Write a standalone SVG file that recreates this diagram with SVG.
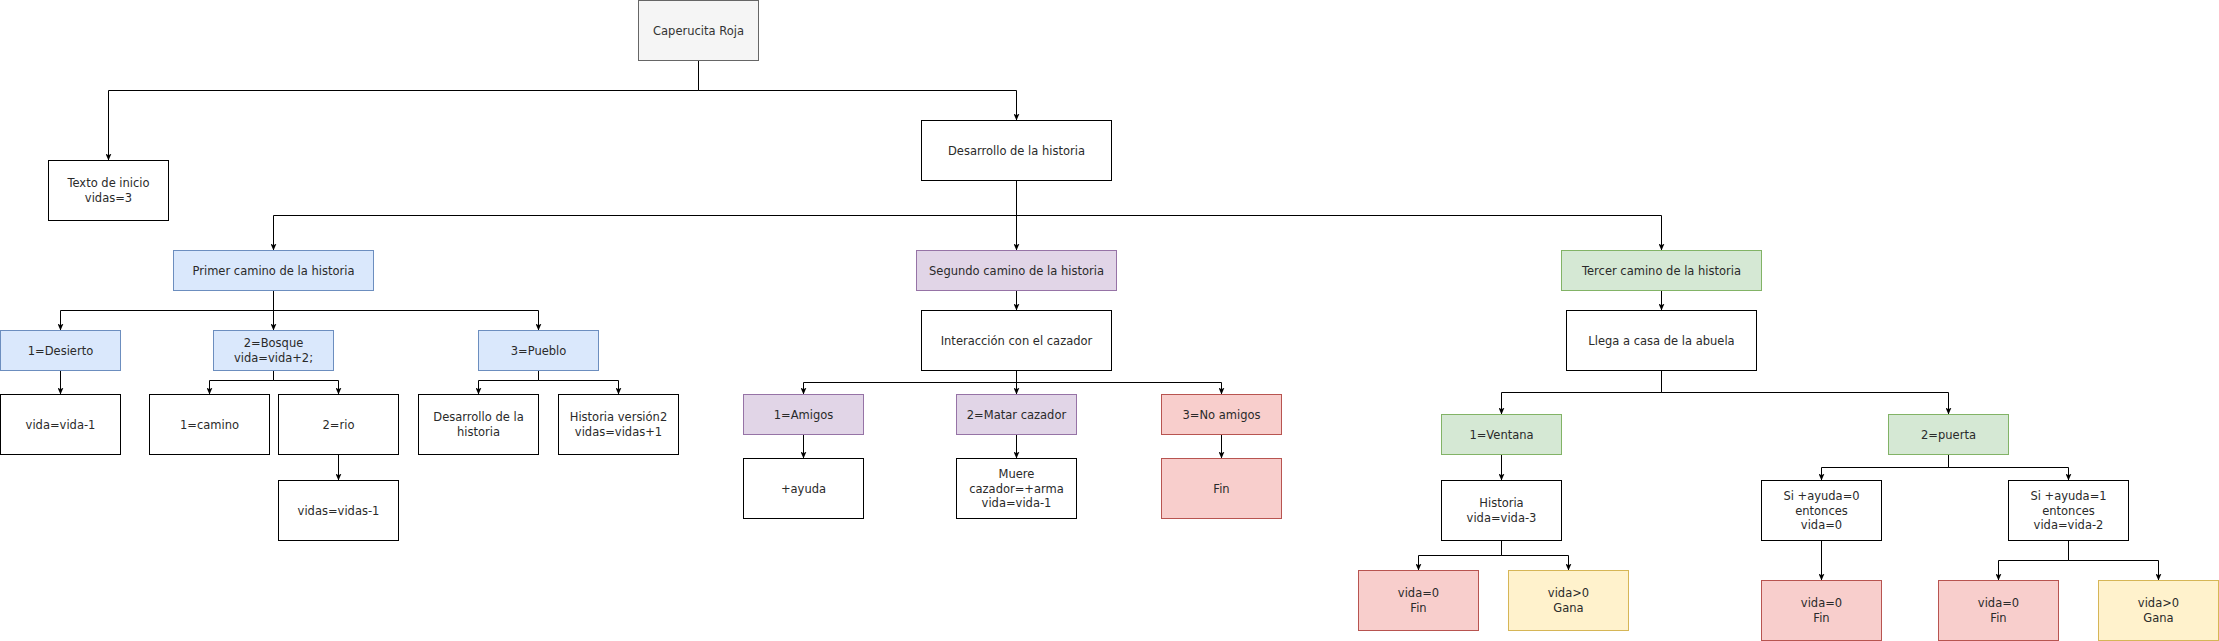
<svg xmlns="http://www.w3.org/2000/svg" width="2219" height="641" viewBox="0 0 2219 641">
<style>
rect{stroke-width:1}
.w{fill:#ffffff;stroke:#000000}
.g0{fill:#f5f5f5;stroke:#666666}
.b{fill:#dae8fc;stroke:#6c8ebf}
.p{fill:#e1d5e7;stroke:#9673a6}
.r{fill:#f8cecc;stroke:#b85450}
.gr{fill:#d5e8d4;stroke:#82b366}
.y{fill:#fff2cc;stroke:#d6b656}
text{font-family:"DejaVu Sans","Liberation Sans",sans-serif;font-size:11.5px;fill:#2a2a2a;text-anchor:middle;dominant-baseline:central}
tspan{dominant-baseline:central}
.cap{fill:#333333}
#edges path{fill:none;stroke:#000000;stroke-width:1;marker-end:url(#arr)}
</style>
<defs>
<marker id="arr" viewBox="0 0 7 6" refX="7" refY="3" markerWidth="7" markerHeight="6" orient="auto" markerUnits="userSpaceOnUse"><path d="M0,0 L7,3 L0,6 L1.8,3 Z" fill="#000000"/></marker>
</defs>
<rect width="2219" height="641" fill="#ffffff"/>
<g id="edges">
<path d="M698.5,60.5 V90.5 H108.5 V160.5"/>
<path d="M698.5,60.5 V90.5 H1016.5 V120.5"/>
<path d="M1016.5,180.5 V215.5 H273.5 V250.5"/>
<path d="M1016.5,180.5 V250.5"/>
<path d="M1016.5,180.5 V215.5 H1661.5 V250.5"/>
<path d="M273.5,290.5 V310.5 H60.5 V330.5"/>
<path d="M273.5,290.5 V330.5"/>
<path d="M273.5,290.5 V310.5 H538.5 V330.5"/>
<path d="M60.5,370.5 V394.5"/>
<path d="M273.5,370.5 V380.5 H209.5 V394.5"/>
<path d="M273.5,370.5 V380.5 H338.5 V394.5"/>
<path d="M338.5,454.5 V480.5"/>
<path d="M538.5,370.5 V380.5 H478.5 V394.5"/>
<path d="M538.5,370.5 V380.5 H618.5 V394.5"/>
<path d="M1016.5,290.5 V310.5"/>
<path d="M1016.5,370.5 V382.5 H803.5 V394.5"/>
<path d="M1016.5,370.5 V394.5"/>
<path d="M1016.5,370.5 V382.5 H1221.5 V394.5"/>
<path d="M803.5,434.5 V458.5"/>
<path d="M1016.5,434.5 V458.5"/>
<path d="M1221.5,434.5 V458.5"/>
<path d="M1661.5,290.5 V310.5"/>
<path d="M1661.5,370.5 V392.5 H1501.5 V414.5"/>
<path d="M1661.5,370.5 V392.5 H1948.5 V414.5"/>
<path d="M1501.5,454.5 V480.5"/>
<path d="M1501.5,540.5 V555.5 H1418.5 V570.5"/>
<path d="M1501.5,540.5 V555.5 H1568.5 V570.5"/>
<path d="M1948.5,454.5 V467.5 H1821.5 V480.5"/>
<path d="M1948.5,454.5 V467.5 H2068.5 V480.5"/>
<path d="M1821.5,540.5 V580.5"/>
<path d="M2068.5,540.5 V560.5 H1998.5 V580.5"/>
<path d="M2068.5,540.5 V560.5 H2158.5 V580.5"/>
</g>
<g id="n-caperucita"><rect class="g0" x="638.5" y="0.5" width="120" height="60"/><text class="cap" x="698.5" y="30.5">Caperucita Roja</text></g>
<g id="n-texto"><rect class="w" x="48.5" y="160.5" width="120" height="60"/><text x="108.5" y="190.5"><tspan x="108.5" dy="-7.25">Texto de inicio</tspan><tspan x="108.5" dy="14.5">vidas=3</tspan></text></g>
<g id="n-desarrollo"><rect class="w" x="921.5" y="120.5" width="190" height="60"/><text x="1016.5" y="150.5">Desarrollo de la historia</text></g>
<g id="n-primer"><rect class="b" x="173.5" y="250.5" width="200" height="40"/><text x="273.5" y="270.5">Primer camino de la historia</text></g>
<g id="n-segundo"><rect class="p" x="916.5" y="250.5" width="200" height="40"/><text x="1016.5" y="270.5">Segundo camino de la historia</text></g>
<g id="n-tercer"><rect class="gr" x="1561.5" y="250.5" width="200" height="40"/><text x="1661.5" y="270.5">Tercer camino de la historia</text></g>
<g id="n-desierto"><rect class="b" x="0.5" y="330.5" width="120" height="40"/><text x="60.5" y="350.5">1=Desierto</text></g>
<g id="n-bosque"><rect class="b" x="213.5" y="330.5" width="120" height="40"/><text x="273.5" y="350.5"><tspan x="273.5" dy="-7.25">2=Bosque</tspan><tspan x="273.5" dy="14.5">vida=vida+2;</tspan></text></g>
<g id="n-pueblo"><rect class="b" x="478.5" y="330.5" width="120" height="40"/><text x="538.5" y="350.5">3=Pueblo</text></g>
<g id="n-vida1"><rect class="w" x="0.5" y="394.5" width="120" height="60"/><text x="60.5" y="424.5">vida=vida-1</text></g>
<g id="n-camino"><rect class="w" x="149.5" y="394.5" width="120" height="60"/><text x="209.5" y="424.5">1=camino</text></g>
<g id="n-rio"><rect class="w" x="278.5" y="394.5" width="120" height="60"/><text x="338.5" y="424.5">2=rio</text></g>
<g id="n-vidas1"><rect class="w" x="278.5" y="480.5" width="120" height="60"/><text x="338.5" y="510.5">vidas=vidas-1</text></g>
<g id="n-desarrollo2"><rect class="w" x="418.5" y="394.5" width="120" height="60"/><text x="478.5" y="424.5"><tspan x="478.5" dy="-7.25">Desarrollo de la</tspan><tspan x="478.5" dy="14.5">historia</tspan></text></g>
<g id="n-version2"><rect class="w" x="558.5" y="394.5" width="120" height="60"/><text x="618.5" y="424.5"><tspan x="618.5" dy="-7.25">Historia versión2</tspan><tspan x="618.5" dy="14.5">vidas=vidas+1</tspan></text></g>
<g id="n-interaccion"><rect class="w" x="921.5" y="310.5" width="190" height="60"/><text x="1016.5" y="340.5">Interacción con el cazador</text></g>
<g id="n-amigos"><rect class="p" x="743.5" y="394.5" width="120" height="40"/><text x="803.5" y="414.5">1=Amigos</text></g>
<g id="n-matar"><rect class="p" x="956.5" y="394.5" width="120" height="40"/><text x="1016.5" y="414.5">2=Matar cazador</text></g>
<g id="n-noamigos"><rect class="r" x="1161.5" y="394.5" width="120" height="40"/><text x="1221.5" y="414.5">3=No amigos</text></g>
<g id="n-ayuda"><rect class="w" x="743.5" y="458.5" width="120" height="60"/><text x="803.5" y="488.5">+ayuda</text></g>
<g id="n-muere"><rect class="w" x="956.5" y="458.5" width="120" height="60"/><text x="1016.5" y="488.5"><tspan x="1016.5" dy="-14.5">Muere</tspan><tspan x="1016.5" dy="14.5">cazador=+arma</tspan><tspan x="1016.5" dy="14.5">vida=vida-1</tspan></text></g>
<g id="n-fin"><rect class="r" x="1161.5" y="458.5" width="120" height="60"/><text x="1221.5" y="488.5">Fin</text></g>
<g id="n-llega"><rect class="w" x="1566.5" y="310.5" width="190" height="60"/><text x="1661.5" y="340.5">Llega a casa de la abuela</text></g>
<g id="n-ventana"><rect class="gr" x="1441.5" y="414.5" width="120" height="40"/><text x="1501.5" y="434.5">1=Ventana</text></g>
<g id="n-puerta"><rect class="gr" x="1888.5" y="414.5" width="120" height="40"/><text x="1948.5" y="434.5">2=puerta</text></g>
<g id="n-historia"><rect class="w" x="1441.5" y="480.5" width="120" height="60"/><text x="1501.5" y="510.5"><tspan x="1501.5" dy="-7.25">Historia</tspan><tspan x="1501.5" dy="14.5">vida=vida-3</tspan></text></g>
<g id="n-fin1"><rect class="r" x="1358.5" y="570.5" width="120" height="60"/><text x="1418.5" y="600.5"><tspan x="1418.5" dy="-7.25">vida=0</tspan><tspan x="1418.5" dy="14.5">Fin</tspan></text></g>
<g id="n-gana1"><rect class="y" x="1508.5" y="570.5" width="120" height="60"/><text x="1568.5" y="600.5"><tspan x="1568.5" dy="-7.25">vida&gt;0</tspan><tspan x="1568.5" dy="14.5">Gana</tspan></text></g>
<g id="n-si0"><rect class="w" x="1761.5" y="480.5" width="120" height="60"/><text x="1821.5" y="510.5"><tspan x="1821.5" dy="-14.5">Si +ayuda=0</tspan><tspan x="1821.5" dy="14.5">entonces</tspan><tspan x="1821.5" dy="14.5">vida=0</tspan></text></g>
<g id="n-si1"><rect class="w" x="2008.5" y="480.5" width="120" height="60"/><text x="2068.5" y="510.5"><tspan x="2068.5" dy="-14.5">Si +ayuda=1</tspan><tspan x="2068.5" dy="14.5">entonces</tspan><tspan x="2068.5" dy="14.5">vida=vida-2</tspan></text></g>
<g id="n-fin2"><rect class="r" x="1761.5" y="580.5" width="120" height="60"/><text x="1821.5" y="610.5"><tspan x="1821.5" dy="-7.25">vida=0</tspan><tspan x="1821.5" dy="14.5">Fin</tspan></text></g>
<g id="n-fin3"><rect class="r" x="1938.5" y="580.5" width="120" height="60"/><text x="1998.5" y="610.5"><tspan x="1998.5" dy="-7.25">vida=0</tspan><tspan x="1998.5" dy="14.5">Fin</tspan></text></g>
<g id="n-gana2"><rect class="y" x="2098.5" y="580.5" width="120" height="60"/><text x="2158.5" y="610.5"><tspan x="2158.5" dy="-7.25">vida&gt;0</tspan><tspan x="2158.5" dy="14.5">Gana</tspan></text></g>
</svg>
